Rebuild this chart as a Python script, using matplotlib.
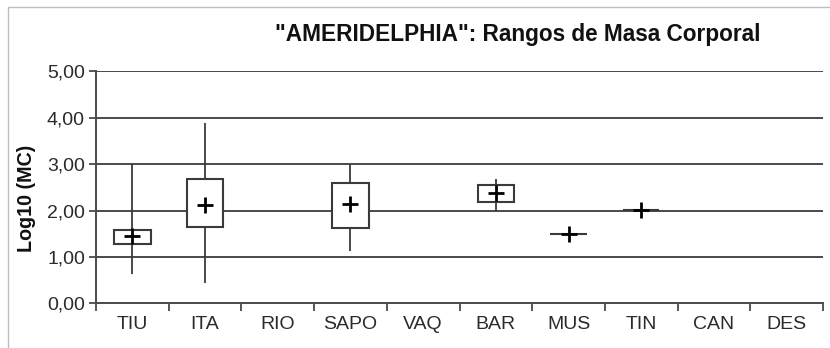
import numpy as np
import matplotlib
matplotlib.use("Agg")
import matplotlib.pyplot as plt
from matplotlib.patches import Rectangle

plt.rcParams["font.family"] = "Liberation Sans"

# body mass ranges per locality (log10 of body mass)
categories = ["TIU", "ITA", "RIO", "SAPO", "VAQ", "BAR", "MUS", "TIN", "CAN", "DES"]
mins  = [0.63, 0.44, np.nan, 1.13, np.nan, 2.00, 1.49, 2.02, np.nan, np.nan]
q1    = [1.28, 1.65, np.nan, 1.62, np.nan, 2.18, 1.49, 2.02, np.nan, np.nan]
q3    = [1.58, 2.67, np.nan, 2.59, np.nan, 2.54, 1.49, 2.02, np.nan, np.nan]
maxs  = [3.00, 3.88, np.nan, 3.00, np.nan, 2.67, 1.49, 2.02, np.nan, np.nan]
means = [1.46, 2.12, np.nan, 2.14, np.nan, 2.38, 1.49, 2.02, np.nan, np.nan]
yticks = [0, 1, 2, 3, 4, 5]
ytick_labels = ["0,00", "1,00", "2,00", "3,00", "4,00", "5,00"]

fig = plt.figure(figsize=(8.3, 3.48), dpi=100)
ax = fig.add_axes([96 / 830, 1 - 303.3 / 348, (823 - 96) / 830, (303.3 - 71.3) / 348])

# chart border
fig.patches.append(Rectangle((8 / 830, -0.2), 1.2, 1.2 - 7 / 348, transform=fig.transFigure,
                             fill=False, edgecolor="#bdbdbd", linewidth=1.0))

x = np.arange(len(categories))
lo = np.array(mins); hi = np.array(maxs)
b1 = np.array(q1); b3 = np.array(q3)
ok = ~np.isnan(lo)

for y in yticks[1:]:
    ax.axhline(y, color="#4a4a4a", linewidth=1.4, zorder=1)

ax.vlines(x[ok], lo[ok], hi[ok], color="#3a3a3a", linewidth=1.3, zorder=2)
ax.bar(x[ok], b3[ok] - b1[ok], bottom=b1[ok], width=0.5, facecolor="white",
       edgecolor="#3a3a3a", linewidth=1.5, zorder=3)
ax.plot(x, means, linestyle="none", marker="+", markersize=11, markeredgewidth=2.0,
        color="black", zorder=4)

ax.set_xlim(-0.5, len(categories) - 0.5)
ax.set_ylim(0, 5)
ax.set_yticks(yticks)
ax.set_yticklabels(ytick_labels)
ax.set_xticks(x)
ax.set_xticklabels(categories)
ax.set_xticks(np.arange(len(categories) + 1) - 0.5, minor=True)
ax.tick_params(axis="x", which="major", length=0, pad=9, labelsize=14, colors="#2a2a2a")
ax.tick_params(axis="x", which="minor", length=6, width=1.3, direction="out", color="#4a4a4a")
ax.tick_params(axis="y", length=5, width=1.3, direction="out", color="#4a4a4a",
               labelsize=14, labelcolor="#2a2a2a", pad=3)

for side in ["top", "right"]:
    ax.spines[side].set_visible(False)
for side in ["left", "bottom"]:
    ax.spines[side].set_color("#4a4a4a")
    ax.spines[side].set_linewidth(1.4)

fig.text(518 / 830, 1 - 35 / 348, "\"AMERIDELPHIA\": Rangos de Masa Corporal",
         ha="center", va="center", fontsize=16.3, fontweight="bold", color="#111111")
fig.text(27 / 830, 1 - 198.5 / 348, "Log10 (MC)", rotation=90, ha="center", va="center",
         fontsize=14.2, fontweight="bold", color="#111111")

fig.savefig("out.png", dpi=100)
